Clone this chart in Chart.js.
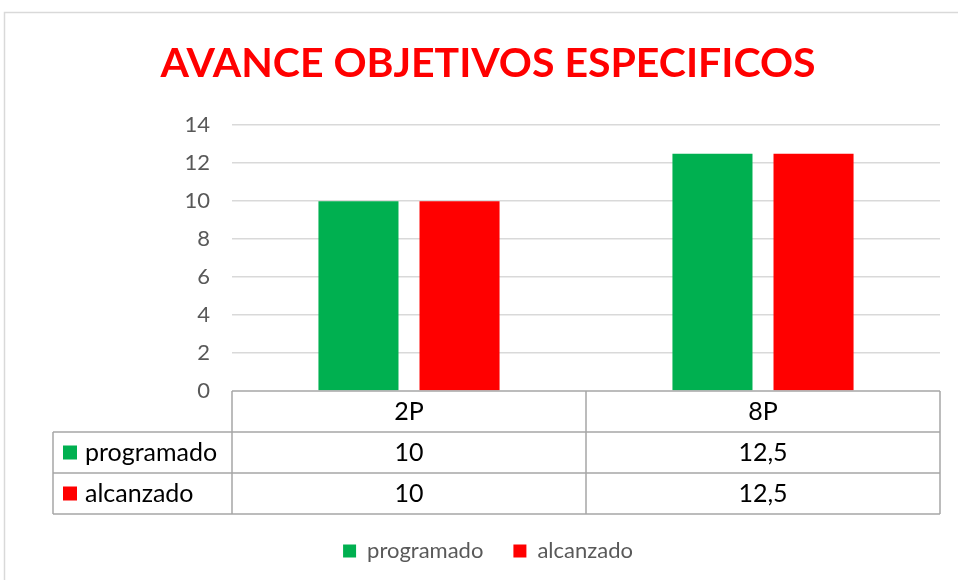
<!DOCTYPE html>
<html>
<head>
<meta charset="utf-8">
<script src="https://cdn.jsdelivr.net/npm/chart.js@4"></script>
<style>
  body { margin: 0; background: #fff; }
  canvas { display: block; }
</style>
</head>
<body>
<canvas id="chart" width="958" height="580"></canvas>
<script>
const categories = ["2P", "8P"];
const programado = [10, 12.5];
const alcanzado = [10, 12.5];
const yMax = 14;
const yStep = 2;

const FONT = "Lato";

function fmt(v) {
    return String(v).replace(".", ",");
}

// marco exterior gris claro
const frame = {
    id: "frame",
    beforeDraw(chart) {
        const ctx = chart.ctx;
        ctx.save();
        ctx.fillStyle = "#fff";
        ctx.fillRect(0, 0, chart.width, chart.height);
        ctx.strokeStyle = "#d9d9d9";
        ctx.lineWidth = 1.5;
        ctx.strokeRect(4.5, 12.5, chart.width + 20, chart.height + 20);
        ctx.restore();
    }
};

// tabla de datos debajo del eje x
const dataTable = {
    id: "dataTable",
    afterDraw(chart) {
        const ctx = chart.ctx;
        const a = chart.chartArea;
        const x = chart.scales.x;
        const half = (x.getPixelForValue(1) - x.getPixelForValue(0)) / 2;
        const rowH = 41;
        const left = 53;
        const y0 = a.bottom, y1 = y0 + rowH, y2 = y1 + rowH, y3 = y2 + rowH;

        ctx.save();
        ctx.strokeStyle = "#a6a6a6";
        ctx.lineWidth = 1.5;
        ctx.beginPath();
        ctx.moveTo(a.left, y0); ctx.lineTo(a.right, y0);
        [y1, y2, y3].forEach(y => { ctx.moveTo(left, y); ctx.lineTo(a.right, y); });
        ctx.moveTo(left, y1); ctx.lineTo(left, y3);
        ctx.moveTo(a.left, y0); ctx.lineTo(a.left, y3);
        categories.forEach((c, i) => {
            const bx = x.getPixelForValue(i) + half;
            ctx.moveTo(bx, y0); ctx.lineTo(bx, y3);
        });
        ctx.stroke();

        ctx.fillStyle = "#000";
        ctx.font = "25px " + FONT;
        ctx.textAlign = "center";
        ctx.textBaseline = "middle";
        categories.forEach((c, i) => {
            const cx = x.getPixelForValue(i);
            ctx.fillText(c, cx, (y0 + y1) / 2);
        });

        chart.data.datasets.forEach((ds, r) => {
            const top = r === 0 ? y1 : y2;
            const mid = top + rowH / 2;
            ctx.fillStyle = ds.backgroundColor;
            ctx.fillRect(63, mid - 7, 14, 14);
            ctx.fillStyle = "#000";
            ctx.textAlign = "left";
            ctx.fillText(ds.label, 85, mid);
            ctx.textAlign = "center";
            ds.data.forEach((v, i) => {
                ctx.fillText(fmt(v), x.getPixelForValue(i), mid);
            });
        });
        ctx.restore();
    }
};

new Chart(document.getElementById("chart"), {
    type: "bar",
    data: {
        labels: categories,
        datasets: [
            {
                label: "programado",
                data: programado,
                backgroundColor: "#00b050",
                categoryPercentage: 0.571,
                barPercentage: 0.792
            },
            {
                label: "alcanzado",
                data: alcanzado,
                backgroundColor: "#ff0000",
                categoryPercentage: 0.571,
                barPercentage: 0.792
            }
        ]
    },
    options: {
        responsive: false,
        animation: false,
        devicePixelRatio: 1,
        layout: { padding: { top: 12, left: 36, right: 18, bottom: 8 } },
        scales: {
            x: {
                ticks: { display: false },
                grid: { display: false },
                border: { display: false },
                afterFit: s => { s.height = 119; }
            },
            y: {
                min: 0,
                max: yMax,
                ticks: {
                    stepSize: yStep,
                    padding: 22,
                    color: "#595959",
                    font: { family: FONT, size: 22 }
                },
                grid: {
                    color: ctx => ctx.tick.value === 0 ? "rgba(0,0,0,0)" : "#d9d9d9",
                    lineWidth: 1.5,
                    drawTicks: false
                },
                border: { display: false },
                afterFit: s => { s.width = 196; }
            }
        },
        plugins: {
            title: {
                display: true,
                text: "AVANCE OBJETIVOS ESPECIFICOS",
                color: "#ff0000",
                font: { family: FONT, size: 41, weight: "bold" },
                padding: { top: 27, bottom: 37 }
            },
            legend: {
                position: "bottom",
                labels: {
                    boxWidth: 13,
                    boxHeight: 13,
                    padding: 30,
                    color: "#595959",
                    font: { family: FONT, size: 22 }
                }
            },
            tooltip: { enabled: false }
        }
    },
    plugins: [frame, dataTable]
});
</script>
</body>
</html>
